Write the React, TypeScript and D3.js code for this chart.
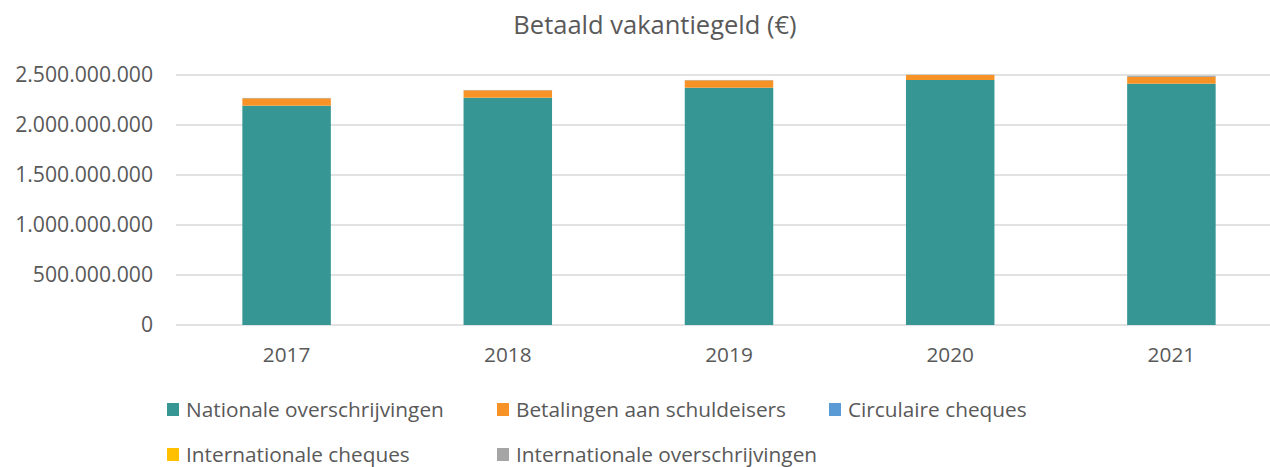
import React from "react";
import * as d3 from "d3";

const years = ["2017", "2018", "2019", "2020", "2021"];
const seriesNames = [
  "Nationale overschrijvingen",
  "Betalingen aan schuldeisers",
  "Circulaire cheques",
  "Internationale cheques",
  "Internationale overschrijvingen",
];
const nationale = [2193e6, 2273e6, 2373e6, 2450e6, 2413e6];
const betalingen = [74e6, 74e6, 74e6, 50e6, 67e6];
const circulaire = [1.5e6, 1e6, 1e6, 0.5e6, 0.5e6];
const intCheques = [0.3e6, 0.3e6, 0.3e6, 0.2e6, 0.2e6];
const intOverschr = [2e6, 2e6, 2e6, 2e6, 12e6];
const yTicks = [0, 500e6, 1000e6, 1500e6, 2000e6, 2500e6];
const colors = ["#359694", "#F79227", "#5B9BD5", "#FFC000", "#A5A5A5"];

const W = 1270, H = 467;
const FONT = "'Open Sans', sans-serif";
const TEXT = "#595959";

export default function App() {
  const x = d3.scaleBand<string>().domain(years).range([176, 1282]).paddingInner(0.6).paddingOuter(0.3);
  const y = d3.scaleLinear().domain([0, 2500e6]).range([325, 75]);
  const fmt = (v: number) => (v === 0 ? "0" : d3.format(",")(v).replace(/,/g, "."));

  const rows = years.map((yr, i) => ({
    year: yr,
    s0: nationale[i], s1: betalingen[i], s2: circulaire[i], s3: intCheques[i], s4: intOverschr[i],
  }));
  const stack = d3.stack<any>().keys(["s0", "s1", "s2", "s3", "s4"])(rows);

  const legend = [
    { x: 167, y: 403 }, { x: 497, y: 403 }, { x: 829, y: 403 },
    { x: 167, y: 448 }, { x: 497, y: 448 },
  ];

  return (
    <svg width={W} height={H} style={{ position: "absolute", left: 0, top: 0, background: "#fff" }} fontFamily={FONT}>
      <text x={655} y={34} textAnchor="middle" fontSize={25.5} fill={TEXT}>Betaald vakantiegeld (€)</text>
      {yTicks.map((t) => (
        <g key={t}>
          <line x1={176} x2={1282} y1={y(t)} y2={y(t)} stroke="#D9D9D9" strokeWidth={1.3} />
          <text x={153} y={y(t)} dy="0.35em" textAnchor="end" fontSize={21.2} fill={TEXT}>{fmt(t)}</text>
        </g>
      ))}
      {stack.map((layer, si) => (
        <g key={si} fill={colors[si]}>
          {layer.map((d, i) => (
            <rect key={i} x={x(years[i])} width={x.bandwidth()} y={y(d[1])} height={Math.max(0, y(d[0]) - y(d[1]))} />
          ))}
        </g>
      ))}
      {years.map((yr) => (
        <text key={yr} x={(x(yr) as number) + x.bandwidth() / 2} y={355} dy="0.35em" textAnchor="middle" fontSize={20.8} fill={TEXT}>{yr}</text>
      ))}
      {seriesNames.map((n, i) => (
        <g key={n}>
          <rect x={legend[i].x} y={legend[i].y} width={12} height={13} fill={colors[i]} />
          <text x={legend[i].x + 19} y={legend[i].y + 6.5} dy="0.35em" fontSize={20.8} fill={TEXT}>{n}</text>
        </g>
      ))}
    </svg>
  );
}
